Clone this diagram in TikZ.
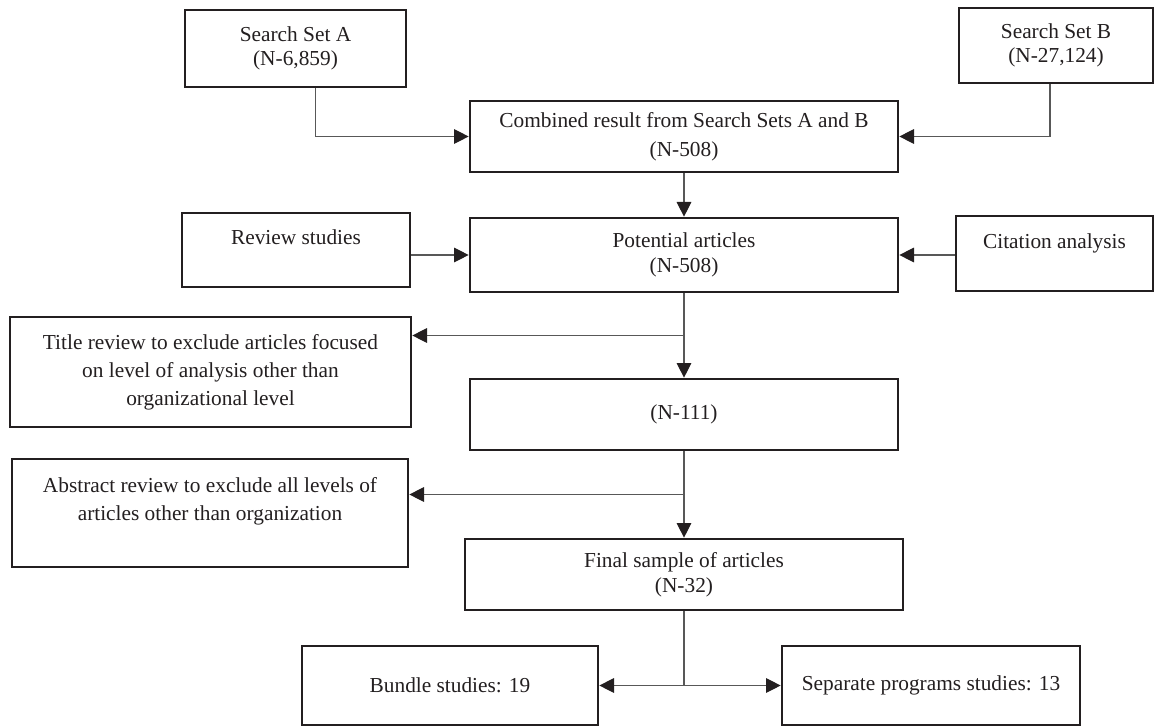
\documentclass[tikz,border=0pt]{standalone}
\usepackage{fontspec}
\setmainfont{Liberation Serif}
\usetikzlibrary{arrows.meta,calc}
\definecolor{InkBlack}{RGB}{35,31,32}
\definecolor{LinkGray}{RGB}{88,88,88}
\tikzset{
  >={Triangle[length=11pt,width=11pt,color=InkBlack]},
  box/.style={draw=InkBlack,line width=2pt,fill=white,align=center,text=InkBlack,font=\fontsize{16}{19}\selectfont,inner sep=2pt},
  tallbox/.style={box,font=\fontsize{16}{21}\selectfont},
  link/.style={->,line width=0.8pt,draw=LinkGray},
  trunk/.style={line width=0.8pt,draw=LinkGray}
}
\begin{document}
\begin{tikzpicture}[x=0.75pt,y=-0.75pt]
  \useasboundingbox (0,0) rectangle (1155,727);
  \node[box,minimum width=165.75pt,minimum height=57.75pt,font=\fontsize{16}{17.5}\selectfont] (setA) at (295.5,48.5) {Search Set A\\(N-6,859)};
  \node[box,minimum width=145.5pt,minimum height=56.25pt,font=\fontsize{16}{17.5}\selectfont] (setB) at (1056,45.5) {Search Set B\\(N-27,124)};
  \node[box,minimum width=321pt,minimum height=53.25pt,font=\fontsize{16}{22}\selectfont] (comb) at (684,136.5) {Combined result from Search Sets A and B\\(N-508)};
  \node[box,minimum width=171pt,minimum height=55.5pt] (review) at (296,250) {Review studies\\ \mbox{}};
  \node[box,minimum width=321pt,minimum height=55.5pt] (potential) at (684,255) {Potential articles\\(N-508)};
  \node[box,minimum width=147.75pt,minimum height=56.25pt] (citation) at (1054.5,253.5) {Citation analysis\\ \mbox{}};
  \node[tallbox,minimum width=300.75pt,minimum height=82.5pt] (title) at (210.5,372) {Title review to exclude articles focused\\on level of analysis other than\\organizational level};
  \node[box,minimum width=321pt,minimum height=53.25pt] (n111) at (684,414.5) {(N-111)};
  \node[tallbox,minimum width=297pt,minimum height=81pt] (abstract) at (210,513) {Abstract review to exclude all levels of\\articles other than organization\\ \mbox{}};
  \node[box,minimum width=328.5pt,minimum height=53.25pt] (final) at (684,574.5) {Final sample of articles\\(N-32)};
  \node[box,minimum width=222pt,minimum height=59.25pt] (bundle) at (450,685.5) {Bundle studies: 19};
  \node[box,minimum width=223.5pt,minimum height=59.25pt] (separate) at (931,685.5) {Separate programs studies: 13};
  % search sets into the combined result
  \draw[link] ($(setA.south)+(20,0)$) |- (comb.west);
  \draw[link] ($(setB.south)+(-6,0)$) |- (comb.east);
  \draw[link] (comb.south) -- (potential.north);
  \draw[link] (potential.west -| review.east) -- (potential.west);
  \draw[link] (potential.east -| citation.west) -- (potential.east);
  % screening steps
  \coordinate (cut1) at ($(potential.south)!0.5!(n111.north)$);
  \draw[link] (potential.south) -- (n111.north);
  \draw[link] (cut1) -- (cut1 -| title.east);
  \coordinate (cut2) at ($(n111.south)!0.5!(final.north)$);
  \draw[link] (n111.south) -- (final.north);
  \draw[link] (cut2) -- (cut2 -| abstract.east);
  % split of the final sample
  \coordinate (split) at (final.south |- bundle.east);
  \draw[trunk] (final.south) -- (split);
  \draw[link] (split) -- (bundle.east);
  \draw[link] (split) -- (separate.west);
\end{tikzpicture}
\end{document}
